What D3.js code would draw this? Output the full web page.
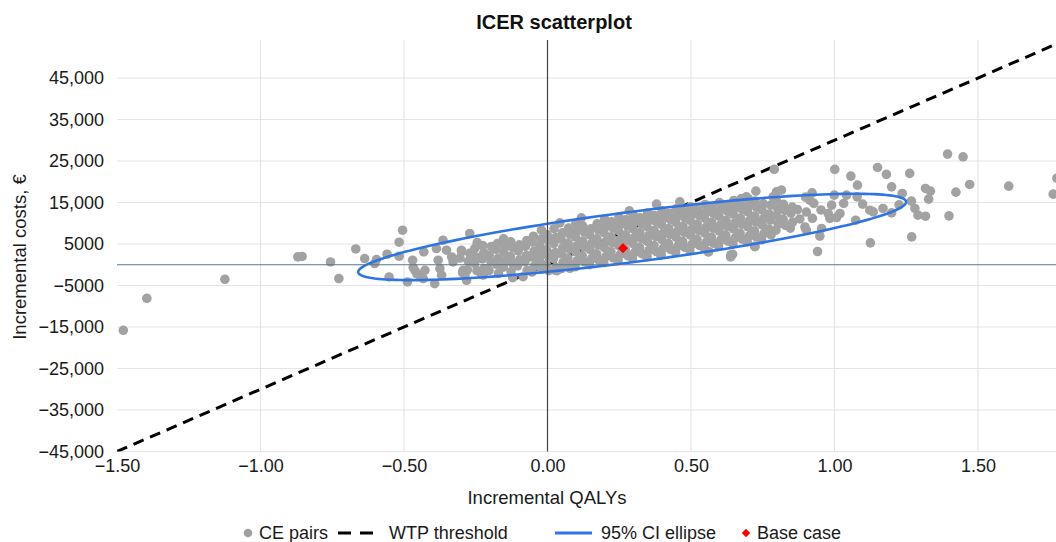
<!DOCTYPE html>
<html><head><meta charset="utf-8">
<script src="https://cdn.jsdelivr.net/npm/d3@7"></script>
<style>
body{margin:0;background:#fff;}
svg{display:block;font-family:"Liberation Sans",Arial,Helvetica,sans-serif;}
</style>
</head><body>
<svg id="chart" width="1056" height="542"></svg>
<script>
// ---------------- data ----------------
const title = "ICER scatterplot";
const xTitle = "Incremental QALYs";
const yTitle = "Incremental costs, €";
const qalyTicks = [-1.5, -1.0, -0.5, 0, 0.5, 1.0, 1.5];
const costTicks = [-45000, -35000, -25000, -15000, -5000, 5000, 15000, 25000, 35000, 45000];
const wtpThreshold = 30000; // € per QALY
const baseCase = [0.263, 4000];
// 95% CI ellipse statistics
const meanQALY = 0.295, meanCost = 6700, sdQALY = 0.39, sdCost = 4253, rhoQC = 0.811, chi2_95 = 5.991;

// CE pairs [QALY, cost]
const cePairsLeft = [
[-1.478,-15800],[-1.396,-8080],[-1.124,-3500],
[-0.870,1900],[-0.855,2000],[-0.756,680],[-0.727,-3330],[-0.668,3810],[-0.637,1500],[-0.602,290],[-0.596,1250],
[-0.559,2530],[-0.552,-2940],[-0.517,2050],[-0.517,5430],[-0.505,8330],[-0.488,-4150],[-0.470,1090],[-0.468,-680],
[-0.462,-1330],[-0.456,-2120],[-0.445,-2530],[-0.433,-3330],[-0.427,-1330],[-0.431,3090],[-0.393,-4540],[-0.387,3910],
[-0.381,1090],[-0.375,-920],[-0.369,-2530],[-0.364,5910],[-0.352,3500],[-0.334,1880],[-0.329,680],[-0.300,3500],
[-0.294,-1330],[-0.288,-2530],[-0.282,-3740],[-0.271,7530]
];
const cePairsCore = [
[-0.296,-1880],[-0.305,1620],[-0.299,3160],
[-0.279,-1210],[-0.271,2740],[-0.276,820],
[-0.246,-1420],[-0.254,310],[-0.249,1880],[-0.253,3960],[-0.245,5330],
[-0.229,-2330],[-0.221,-890],[-0.227,1400],[-0.222,2870],[-0.226,4640],
[-0.204,-1390],[-0.197,720],[-0.203,2290],[-0.196,4390],
[-0.171,-2080],[-0.178,110],[-0.172,1560],[-0.179,3680],[-0.174,5120],
[-0.154,-590],[-0.146,870],[-0.152,3010],[-0.148,4450],[-0.153,6250],
[-0.121,-3120],[-0.127,-1680],[-0.123,460],[-0.129,1960],[-0.122,4110],[-0.128,5530],
[-0.104,-260],[-0.097,1180],[-0.102,3330],[-0.098,4790],
[-0.071,-1390],[-0.078,780],[-0.073,2240],[-0.077,4410],[-0.072,5850],
[-0.054,-1760],[-0.046,-320],[-0.052,1830],[-0.047,3290],[-0.053,5470],[-0.049,6880],
[-0.021,-1060],[-0.028,1110],[-0.023,2560],[-0.027,4680],[-0.022,6140],
[0.004,-1430],[-0.004,-20],[0.002,2110],[-0.003,3580],[0.003,5760],[-0.001,7190],
[0.029,-690],[0.021,1470],[0.027,2940],[0.022,5110],[0.028,6530],[0.023,8680],
[0.046,-960],[0.054,480],[0.048,2620],[0.053,4090],[0.047,6240],[0.052,7690],
[0.079,170],[0.071,1630],[0.077,3790],[0.072,5230],[0.078,7380],[0.073,8820],
[0.096,-480],[0.104,980],[0.098,3120],[0.103,4590],[0.097,6720],[0.102,8180],[0.099,9960],
[0.129,690],[0.121,2130],[0.127,4270],[0.122,5740],[0.128,7880],[0.123,9330],
[0.146,40],[0.154,1490],[0.148,3620],[0.153,5080],[0.147,7230],[0.152,8690],
[0.179,1170],[0.171,2630],[0.177,4780],[0.172,6240],[0.178,8370],[0.173,9840],
[0.196,530],[0.204,1990],[0.198,4120],[0.203,5590],[0.197,7720],[0.202,9180],[0.199,10980],
[0.229,1680],[0.221,3130],[0.227,5280],[0.222,6740],[0.228,8870],[0.223,10330],
[0.246,1030],[0.254,2490],[0.248,4620],[0.253,6090],[0.247,8220],[0.252,9680],[0.249,11480],
[0.279,2180],[0.271,3630],[0.277,5780],[0.272,7240],[0.278,9370],[0.273,10830],
[0.296,1530],[0.304,2990],[0.298,5120],[0.303,6590],[0.297,8720],[0.302,10180],[0.299,11980],
[0.329,2680],[0.321,4130],[0.327,6280],[0.322,7740],[0.328,9870],[0.323,11330],
[0.346,2030],[0.354,3490],[0.348,5620],[0.353,7090],[0.347,9220],[0.352,10680],[0.349,12480],
[0.379,3180],[0.371,4630],[0.377,6780],[0.372,8240],[0.378,10370],[0.373,11830],
[0.396,2530],[0.404,3990],[0.398,6120],[0.403,7590],[0.397,9720],[0.402,11180],[0.399,12980],
[0.429,3680],[0.421,5130],[0.427,7280],[0.422,8740],[0.428,10870],[0.423,12330],
[0.446,3030],[0.454,4490],[0.448,6620],[0.453,8090],[0.447,10220],[0.452,11680],[0.449,13480],
[0.479,4180],[0.471,5630],[0.477,7780],[0.472,9240],[0.478,11370],[0.473,12830],
[0.496,3530],[0.504,4990],[0.498,7120],[0.503,8590],[0.497,10720],[0.502,12180],[0.499,13980],
[0.529,4680],[0.521,6130],[0.527,8280],[0.522,9740],[0.528,11870],[0.523,13330],
[0.546,4030],[0.554,5490],[0.548,7620],[0.553,9090],[0.547,11220],[0.552,12680],[0.549,14480],
[0.579,5180],[0.571,6630],[0.577,8780],[0.572,10240],[0.578,12370],[0.573,13830],
[0.596,4530],[0.604,5990],[0.598,8120],[0.603,9590],[0.597,11720],[0.602,13180],[0.599,14980],
[0.629,5680],[0.621,7130],[0.627,9280],[0.622,10740],[0.628,12870],[0.623,14330],
[0.646,5030],[0.654,6490],[0.648,8620],[0.653,10090],[0.647,12220],[0.652,13680],[0.649,15480],
[0.679,6180],[0.671,7630],[0.677,9780],[0.672,11240],[0.678,13370],[0.673,14830],
[0.696,5530],[0.704,6990],[0.698,9120],[0.703,10590],[0.697,12720],[0.702,14180],[0.699,15980],
[0.729,6680],[0.721,8130],[0.727,10280],[0.722,11740],[0.728,13870],[0.723,15330],
[0.746,6030],[0.754,7490],[0.748,9620],[0.753,11090],[0.747,13220],[0.752,14680],
[0.779,7180],[0.771,8630],[0.777,10780],[0.772,12240],[0.778,14370],
[0.796,8330],[0.804,9790],[0.798,11920],[0.803,13390],[0.797,15520],
[0.829,9480],[0.821,10930],[0.827,13080],[0.822,14540],
[0.846,8830],[0.854,10290],[0.848,12420],[0.853,13890],
[0.879,11040],[0.871,13290],
[0.897,9100],[0.902,12700],[0.899,16300],
[0.923,11200],[0.928,14800],
[0.953,13200]
];
const cePairsFringe = [
[-0.085,-2880],[0.026,-1270],[0.078,-860],[-0.224,-2470],[0.346,1940],[0.394,2350],[0.562,3150],[0.639,2350],
[0.723,4350],[0.177,1310],[0.081,-470],[0.033,-1430],
[-0.021,8320],[0.043,10090],[0.118,11290],[0.285,12980],[0.380,14600],[0.461,15150]
];
const cePairsRight = [
[1.042,16770],[1.032,14770],[1.019,12350],[1.007,11390],[0.999,16770],[0.990,14360],[0.978,12350],[0.984,11150],
[0.955,8740],[0.949,6880],[0.922,17330],[0.914,15560],[0.902,8320],[1.079,16360],[1.074,10740],[1.098,14600],
[1.123,13150],[1.135,12740],[1.169,13560],[1.199,12500],[1.225,14430],[1.268,15320],[1.280,13560],[1.291,11940],
[1.317,11700],[1.236,17180],[1.199,18770],[1.181,21770],[1.150,23450],[1.262,22010],[1.057,21360],[1.080,19180],
[1.001,22970],[0.790,22970],[1.317,18390],[1.334,17740],[1.328,15810],[1.394,26660],[1.448,26010],[1.423,17490],
[1.471,19350],[1.399,11780],[1.607,18940],[1.762,17010],[1.775,20870],[1.269,6710],[1.125,5260],[0.941,3190],
[0.815,17980],[0.798,17570],[0.786,16360],[0.726,17740],[0.693,16360],[0.676,15970],[0.645,2530],[0.638,1880],
[0.560,3090],[0.722,4460]
];
const legendItems = ["CE pairs", "WTP threshold", "95% CI ellipse", "Base case"];

// ---------------- chart ----------------
const W = 1056, H = 542;
const svg = d3.select("#chart");
const x = d3.scaleLinear().domain([-1.5, 1.5]).range([117, 978]);
const y = d3.scaleLinear().domain([-45000, 45000]).range([451.5, 78]);
const plotTop = 40, plotLeft = x(-1.5), plotBottom = y(-45000), plotRight = W + 80;

const fmtQ = d => d3.format(".2f")(d).replace("-", "\u2212");
const fmtC = d => {
  const a = Math.abs(d);
  const s = a >= 10000 ? d3.format(",")(a) : String(a);
  return (d < 0 ? "\u2212" : "") + s;
};

svg.append("defs").append("clipPath").attr("id", "plotclip")
  .append("rect").attr("x", plotLeft).attr("y", plotTop)
  .attr("width", plotRight - plotLeft).attr("height", plotBottom - plotTop);

// grid
const grid = svg.append("g");
grid.selectAll("line.h").data(costTicks).join("line")
  .attr("x1", plotLeft).attr("x2", W).attr("y1", d => y(d)).attr("y2", d => y(d))
  .attr("stroke", "#e4e4e4").attr("stroke-width", 1.2);
grid.selectAll("line.v").data(qalyTicks.filter(d => d !== 0 && d !== -1.5)).join("line")
  .attr("x1", d => x(d)).attr("x2", d => x(d)).attr("y1", plotTop).attr("y2", plotBottom)
  .attr("stroke", "#e4e4e4").attr("stroke-width", 1.2);

const plot = svg.append("g").attr("clip-path", "url(#plotclip)");

// WTP threshold line
const wtpQ = [-1.5, x.invert(plotRight)];
plot.append("line")
  .attr("x1", x(wtpQ[0])).attr("y1", y(wtpQ[0] * wtpThreshold))
  .attr("x2", x(wtpQ[1])).attr("y2", y(wtpQ[1] * wtpThreshold))
  .attr("stroke", "#000").attr("stroke-width", 3).attr("stroke-dasharray", "11,7");

// CE pairs
const allPairs = cePairsLeft.concat(cePairsCore, cePairsFringe, cePairsRight);
svg.append("g").selectAll("circle").data(allPairs).join("circle")
  .attr("cx", d => x(d[0])).attr("cy", d => y(d[1])).attr("r", 4.8)
  .attr("fill", "#a2a2a2");

// 95% CI ellipse
const k = Math.sqrt(chi2_95);
const ts = d3.range(0, 360, 2).map(a => a * Math.PI / 180);
const ellPts = ts.map(t => [
  meanQALY + k * sdQALY * Math.cos(t),
  meanCost + k * sdCost * (rhoQC * Math.cos(t) + Math.sqrt(1 - rhoQC * rhoQC) * Math.sin(t))
]);
svg.append("path")
  .attr("d", d3.line().x(d => x(d[0])).y(d => y(d[1])).curve(d3.curveLinearClosed)(ellPts))
  .attr("fill", "none").attr("stroke", "#2f74e6").attr("stroke-width", 2.6);

// zero lines
svg.append("line").attr("x1", plotLeft).attr("x2", W).attr("y1", y(0)).attr("y2", y(0))
  .attr("stroke", "#55798a").attr("stroke-width", 1.2);
svg.append("line").attr("x1", x(0)).attr("x2", x(0)).attr("y1", plotTop).attr("y2", plotBottom)
  .attr("stroke", "#444").attr("stroke-width", 1.2);

// base case
svg.append("path")
  .attr("transform", `translate(${x(baseCase[0])},${y(baseCase[1])}) rotate(45)`)
  .attr("d", "M-3.6,-3.6H3.6V3.6H-3.6Z").attr("fill", "#ff0000");

// axes
const xAxis = svg.append("g").attr("transform", `translate(0,${plotBottom})`)
  .call(d3.axisBottom(x).tickValues(qalyTicks).tickFormat(fmtQ).tickSize(0).tickPadding(8));
xAxis.select(".domain").remove();
xAxis.selectAll("text").attr("font-size", 18).attr("fill", "#1a1a1a")
  .attr("font-family", '"Liberation Sans",Arial,sans-serif');

const yAxis = svg.append("g").attr("transform", `translate(${plotLeft},0)`)
  .call(d3.axisLeft(y).tickValues(costTicks).tickFormat(fmtC).tickSize(0).tickPadding(13));
yAxis.select(".domain").remove();
yAxis.selectAll("text").attr("font-size", 18).attr("fill", "#1a1a1a")
  .attr("font-family", '"Liberation Sans",Arial,sans-serif');

// titles
svg.append("text").attr("x", 554).attr("y", 29).attr("text-anchor", "middle")
  .attr("font-size", 20).attr("font-weight", "bold").attr("fill", "#111").text(title);
svg.append("text").attr("x", 547).attr("y", 504).attr("text-anchor", "middle")
  .attr("font-size", 18.5).attr("fill", "#1a1a1a").text(xTitle);
svg.append("text").attr("transform", "translate(26,257) rotate(-90)").attr("text-anchor", "middle")
  .attr("font-size", 18.5).attr("fill", "#1a1a1a").text(yTitle);

// legend
const lg = svg.append("g").attr("font-size", 18).attr("fill", "#1a1a1a");
const ly = 533;
lg.append("circle").attr("cx", 248).attr("cy", ly).attr("r", 4.3).attr("fill", "#a2a2a2");
lg.append("text").attr("x", 259).attr("y", ly + 6).text(legendItems[0]);
lg.append("line").attr("x1", 338).attr("x2", 378).attr("y1", ly).attr("y2", ly)
  .attr("stroke", "#000").attr("stroke-width", 3).attr("stroke-dasharray", "13,9");
lg.append("text").attr("x", 389).attr("y", ly + 6).text(legendItems[1]);
lg.append("line").attr("x1", 555).attr("x2", 592).attr("y1", ly).attr("y2", ly)
  .attr("stroke", "#2f74e6").attr("stroke-width", 3);
lg.append("text").attr("x", 601).attr("y", ly + 6).text(legendItems[2]);
lg.append("path").attr("transform", `translate(746,${ly}) rotate(45)`)
  .attr("d", "M-3,-3H3V3H-3Z").attr("fill", "#ff0000");
lg.append("text").attr("x", 757).attr("y", ly + 6).text(legendItems[3]);
</script>
</body></html>
